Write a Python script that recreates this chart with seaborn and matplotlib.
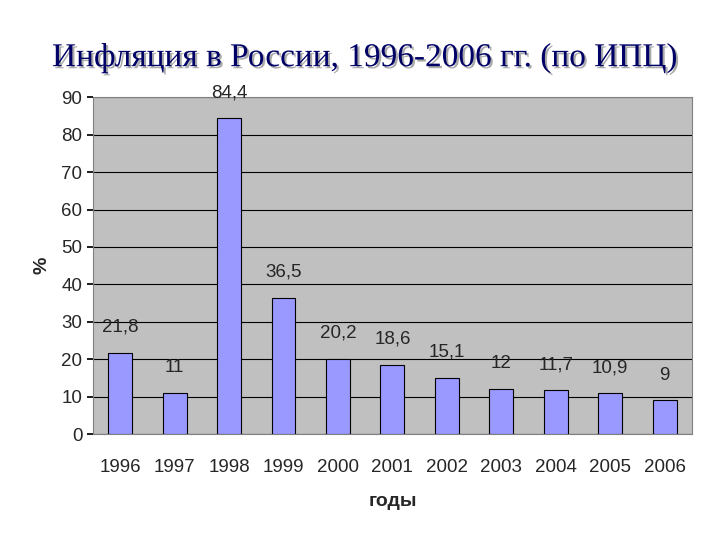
import matplotlib
matplotlib.use("Agg")
import matplotlib.pyplot as plt
import matplotlib.patheffects as pe
import seaborn as sns
import pandas as pd

# Inflation in Russia by CPI, percent
years = ["1996", "1997", "1998", "1999", "2000", "2001", "2002", "2003", "2004", "2005", "2006"]
inflation = [21.8, 11, 84.4, 36.5, 20.2, 18.6, 15.1, 12, 11.7, 10.9, 9]
value_labels = ["21,8", "11", "84,4", "36,5", "20,2", "18,6", "15,1", "12", "11,7", "10,9", "9"]

df = pd.DataFrame({"year": years, "value": inflation})

sns.set_theme(style="white")
plt.rcParams["font.family"] = ["Liberation Sans", "DejaVu Sans"]

fig = plt.figure(figsize=(7.2, 5.4), dpi=100)
ax = fig.add_axes([0.129, 0.196, 0.832, 0.624])
ax.set_facecolor("#c0c0c0")

sns.barplot(data=df, x="year", y="value", color="#9999ff", edgecolor="black",
            linewidth=0.8, width=0.44, saturation=1, ax=ax, zorder=3)

ax.set_ylim(0, 90)
ax.set_yticks(range(0, 91, 10))
ax.yaxis.grid(True, color="black", linewidth=0.8, zorder=0)
ax.set_axisbelow(True)
for s in ax.spines.values():
    s.set_color("#808080")
    s.set_linewidth(0.8)

for i, (v, lab) in enumerate(zip(inflation, value_labels)):
    ax.text(i, v + 4.5, lab, ha="center", va="bottom", fontsize=13.5)

ax.tick_params(axis="both", labelsize=13.5, length=4, color="black", left=True, bottom=False)
ax.tick_params(axis="x", pad=14)
ax.set_xlabel("годы", fontsize=14, fontweight="bold", labelpad=12)
ax.set_ylabel("%", fontsize=14, fontweight="bold", labelpad=8)

fig.text(0.507, 0.893, "Инфляция в России, 1996-2006 гг. (по ИПЦ)",
         ha="center", va="center", fontsize=24, color="#000066",
         family=["Liberation Serif", "DejaVu Serif"],
         path_effects=[pe.withSimplePatchShadow(offset=(1.5, -1.5), shadow_rgbFace="#aaaaaa", alpha=1)])

fig.savefig("out.png", dpi=100)
